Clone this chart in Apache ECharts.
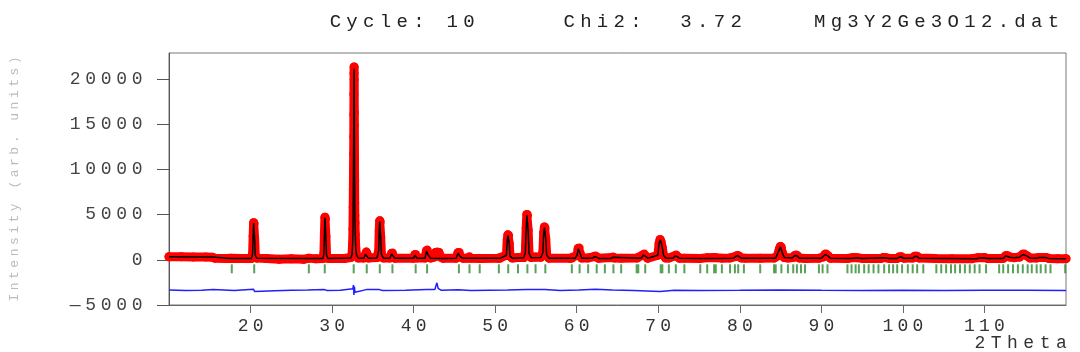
<!DOCTYPE html>
<html>
<head>
<meta charset="utf-8">
<script src="https://cdn.jsdelivr.net/npm/echarts@6/dist/echarts.min.js"></script>
<style>
    html, body { margin: 0; padding: 0; background: #fff; }
    #main { width: 1080px; height: 352px; }
</style>
</head>
<body>
<div id="main"></div>
<script>
// observed intensities [2theta, counts]
const observed = [
    [10, 330], [11.5, 320], [13, 310], [14.5, 300], [15.3, 290], [15.6, 180], [17, 150], [17.6, 170], [17.8, 150], [19, 140], [20.1, 150],
    [20.25, 600], [20.32, 2600], [20.38, 4100], [20.44, 4000], [20.5, 2400], [20.58, 500], [20.75, 180],
    [22, 130], [23.5, 60], [25, 100], [26.5, 50], [27.15, 180], [28, 100], [28.9, 150],
    [29.0, 700], [29.06, 2900], [29.12, 4700], [29.18, 4500], [29.24, 2600], [29.32, 500], [29.5, 150],
    [30.5, 130], [31.5, 140], [32.3, 250],
    [32.45, 600], [32.52, 1800], [32.56, 3400], [32.59, 5800], [32.61, 7800], [32.63, 9900], [32.645, 11700], [32.66, 13600],
    [32.67, 16000], [32.68, 18300], [32.69, 20600], [32.7, 21300], [32.71, 19900], [32.72, 16300], [32.73, 14900], [32.745, 11300],
    [32.76, 8800], [32.775, 6300], [32.79, 4900], [32.81, 4100], [32.84, 2800], [32.9, 1300], [33.0, 500], [33.2, 200],
    [33.9, 200], [34.1, 600], [34.2, 850], [34.3, 600], [34.45, 200],
    [35.5, 250], [35.72, 1000], [35.78, 3200], [35.84, 4300], [35.9, 4200], [35.96, 2500], [36.05, 600], [36.3, 200],
    [37.1, 200], [37.3, 700], [37.4, 750], [37.5, 400], [37.7, 170],
    [40.0, 170], [40.15, 550], [40.25, 580], [40.4, 200],
    [41.4, 200], [41.58, 1000], [41.68, 1070], [41.8, 500], [42.1, 200],
    [42.5, 300], [42.7, 800], [42.9, 860], [43.1, 800], [43.3, 300], [43.6, 160],
    [45.2, 180], [45.45, 780], [45.6, 800], [45.75, 300], [46.1, 170],
    [46.65, 200], [46.85, 320], [47.05, 170], [48.1, 150], [50.4, 160], [50.6, 170],
    [51.38, 500], [51.48, 2200], [51.56, 2750], [51.64, 2700], [51.72, 1800], [51.82, 400], [52.1, 200], [52.82, 250], [53.5, 250],
    [53.7, 800], [53.8, 3500], [53.88, 5000], [53.96, 4900], [54.04, 3300], [54.15, 700], [54.4, 250], [54.95, 300], [55.6, 280],
    [55.85, 800], [55.95, 3000], [56.04, 3630], [56.12, 3500], [56.2, 2300], [56.32, 500], [56.6, 180],
    [59.2, 160], [59.4, 200], [60.05, 500], [60.18, 1250], [60.3, 1300], [60.42, 700], [60.6, 200],
    [61.4, 200], [62.15, 350], [62.3, 410], [62.45, 300], [62.7, 160],
    [64.3, 250], [64.46, 300], [64.6, 200], [65.45, 180],
    [67.4, 200], [68.15, 550], [68.3, 630], [68.45, 400], [68.7, 170],
    [69.95, 500], [70.1, 1800], [70.22, 2240], [70.34, 2000], [70.5, 1300], [70.65, 500], [70.9, 200],
    [71.3, 200], [72.05, 450], [72.2, 520], [72.35, 350], [72.6, 170],
    [73.2, 180], [75.2, 150], [76.0, 230], [76.8, 250], [77.05, 230], [77.8, 180], [78.8, 200], [79.45, 350], [79.7, 470], [79.9, 420], [80.2, 200], [80.6, 180],
    [82.5, 170], [84.2, 200], [84.6, 400], [84.85, 1200], [84.98, 1470], [85.1, 1350], [85.25, 700], [85.45, 250], [85.9, 200],
    [86.55, 250], [86.75, 480], [86.9, 520], [87.05, 450], [87.3, 200],
    [88, 150], [89.7, 170], [90.2, 300], [90.45, 600], [90.6, 630], [90.8, 450], [91.1, 170],
    [93.2, 140], [93.9, 250], [94.4, 230], [95.0, 150], [97.3, 150], [97.6, 240], [97.9, 230], [98.3, 150],
    [99.3, 150], [99.55, 300], [99.8, 320], [100.1, 180], [101.2, 200], [101.45, 390], [101.7, 400], [102.0, 200],
    [104, 130], [106, 120], [108.5, 120], [109.2, 230], [110.0, 250], [110.4, 140],
    [112.3, 150], [112.6, 450], [112.8, 470], [113.1, 300], [113.6, 230], [114.3, 300], [114.7, 600], [114.9, 630], [115.2, 450], [115.6, 200],
    [116.4, 200], [116.7, 260], [117.5, 260], [117.9, 150], [119, 120], [120, 120]
];

// calculated profile
const calculated = [
    [10, 340], [15.3, 300], [15.5, 170], [17.6, 150], [17.7, 260], [17.8, 150], [20.1, 150],
    [20.25, 600], [20.32, 2600], [20.38, 4050], [20.44, 3950], [20.5, 2400], [20.58, 500], [20.75, 160],
    [27.05, 140], [27.15, 230], [27.25, 140], [28.9, 150],
    [29.0, 700], [29.06, 2900], [29.12, 4650], [29.18, 4450], [29.24, 2600], [29.32, 500], [29.5, 150],
    [32.3, 200], [32.45, 600], [32.52, 1800], [32.56, 3400], [32.6, 7000], [32.64, 12500], [32.68, 19000], [32.7, 21100],
    [32.72, 17500], [32.75, 11000], [32.79, 5000], [32.84, 2800], [32.9, 1300], [33.0, 500], [33.2, 200],
    [33.9, 180], [34.1, 600], [34.2, 800], [34.3, 600], [34.45, 180],
    [35.5, 200], [35.72, 1000], [35.78, 3200], [35.84, 4250], [35.9, 4150], [35.96, 2500], [36.05, 600], [36.3, 180],
    [37.1, 170], [37.3, 650], [37.4, 700], [37.5, 400], [37.7, 160],
    [40.0, 160], [40.15, 500], [40.25, 540], [40.4, 180],
    [41.4, 180], [41.58, 950], [41.68, 1000], [41.8, 500], [42.1, 170], [43.6, 150],
    [45.2, 160], [45.45, 720], [45.6, 750], [45.75, 300], [46.1, 160],
    [46.65, 170], [46.85, 300], [47.05, 160], [50.6, 160],
    [51.38, 500], [51.48, 2200], [51.56, 2700], [51.64, 2650], [51.72, 1800], [51.82, 400], [52.1, 180], [53.5, 220],
    [53.7, 800], [53.8, 3500], [53.88, 4900], [53.96, 4800], [54.04, 3300], [54.15, 700], [54.4, 230], [55.6, 250],
    [55.85, 800], [55.95, 3000], [56.04, 3550], [56.12, 3450], [56.2, 2300], [56.32, 500], [56.6, 170],
    [59.8, 170], [60.05, 500], [60.18, 1200], [60.3, 1250], [60.42, 700], [60.6, 180],
    [61.9, 160], [62.15, 330], [62.3, 380], [62.45, 280], [62.7, 150],
    [64.2, 150], [64.46, 280], [64.7, 150],
    [67.9, 160], [68.15, 520], [68.3, 600], [68.45, 380], [68.7, 160],
    [69.95, 500], [70.1, 1800], [70.22, 2200], [70.34, 1950], [70.5, 1300], [70.65, 500], [70.9, 190],
    [71.8, 170], [72.05, 430], [72.2, 500], [72.35, 330], [72.6, 160],
    [75.8, 150], [76.0, 200], [76.2, 150], [79.2, 160], [79.45, 330], [79.7, 450], [79.9, 400], [80.2, 180],
    [84.4, 180], [84.6, 400], [84.85, 1150], [84.98, 1420], [85.1, 1300], [85.25, 700], [85.45, 240], [86.4, 190],
    [86.75, 460], [86.9, 500], [87.05, 430], [87.3, 180],
    [90.0, 160], [90.2, 280], [90.45, 580], [90.6, 600], [90.8, 430], [91.1, 160],
    [93.7, 140], [93.9, 220], [94.4, 210], [95.0, 140], [97.6, 210], [97.9, 200], [98.3, 140],
    [99.3, 140], [99.55, 280], [99.8, 300], [100.1, 170], [101.2, 180], [101.45, 370], [101.7, 380], [102.0, 180],
    [109.0, 120], [109.4, 200], [109.9, 210], [110.4, 130],
    [112.3, 140], [112.6, 430], [112.8, 450], [113.1, 280], [113.6, 210], [114.3, 280], [114.7, 580], [114.9, 600], [115.2, 430], [115.6, 190],
    [116.4, 180], [116.7, 240], [117.5, 240], [117.9, 140], [120, 120]
];

// observed - calculated, drawn with offset
const difference = [
    [10, -3350], [12, -3400], [14, -3380], [15.4, -3300], [15.6, -3450], [18, -3400], [20.35, -3250], [20.5, -3500], [20.7, -3380],
    [23, -3420], [25, -3380], [27, -3350], [29.05, -3300], [29.2, -3500], [29.4, -3400], [31, -3380],
    [32.55, -3200], [32.62, -2800], [32.68, -3900], [32.74, -2950], [32.8, -3600], [32.9, -3400],
    [34.2, -3300], [35.8, -3300], [35.95, -3500], [36.2, -3400], [39, -3380], [41.6, -3300], [42.6, -3300],
    [42.85, -2550], [43.0, -3150], [43.4, -3380], [45.5, -3320], [47, -3400], [51.5, -3350], [51.7, -3450],
    [53.85, -3300], [54.0, -3500], [56.1, -3300], [56.2, -3480], [58, -3400], [60.25, -3330], [62.3, -3250], [62.5, -3400],
    [64.4, -3350], [67, -3400], [70.2, -3500], [70.4, -3300], [72, -3380], [75, -3400], [80, -3370], [85.0, -3330], [85.2, -3450],
    [90, -3380], [95, -3400], [100, -3370], [105, -3400], [110, -3380], [115, -3360], [120, -3400]
];

// reflection positions (2theta)
const braggPos = [
    17.7, 20.45, 27.15, 29.1, 32.65, 34.25, 35.85, 37.4, 40.25, 41.65, 45.55, 46.85, 48.1, 50.45, 51.6, 52.8, 53.95, 54.95, 56.15,
    59.4, 60.35, 61.4, 62.45, 63.45, 64.5, 65.45, 67.35, 67.55, 68.4, 70.3, 70.5, 71.3, 72.15, 73.2, 75.15, 76.0, 76.85, 77.05,
    77.8, 78.8, 79.4, 79.8, 80.5, 82.5, 84.2, 84.4, 85.1, 85.9, 86.55, 87.0, 87.5, 88.0, 89.7, 90.15, 90.75, 93.2, 93.7, 94.2,
    94.6, 95.25, 95.8, 96.4, 97.0, 97.7, 98.3, 98.8, 99.3, 99.9, 100.6, 101.2, 101.75, 102.5, 104.1, 104.7, 105.3, 105.9, 106.4,
    107.0, 107.6, 108.2, 108.8, 109.4, 110.2, 111.8, 112.3, 112.9, 113.5, 114.1, 114.7, 115.3, 115.8, 116.4, 116.9, 117.5, 118.1, 119.9
];
const braggLevel = -1000;

const xTicks = [20, 30, 40, 50, 60, 70, 80, 90, 100, 110];
const yTicks = [-5000, 0, 5000, 10000, 15000, 20000];

// monospace text spread out one cell per character
function spaced(s, key) {
    return s.split('').map(function (c) {
        return '{' + key + '|' + (c === ' ' ? '\u00a0' : c) + '}';
    }).join('');
}
const mono = 'Liberation Mono';

let myChart = echarts.init(document.getElementById('main'));
myChart.setOption({
    animation: false,
    backgroundColor: '#fff',
    title: [{
        text: spaced('Cycle: 10     Chi2:  3.72    Mg3Y2Ge3O12.dat', 't'),
        left: 327,
        top: 12,
        padding: 0,
        textStyle: {
            fontWeight: 'normal',
            rich: { t: { width: 16.7, align: 'center', fontFamily: mono, fontSize: 19, fontWeight: 'normal', color: '#222' } }
        }
    }, {
        text: spaced('2Theta', 'n'),
        right: 16,
        top: 334,
        padding: 0,
        textStyle: {
            fontWeight: 'normal',
            rich: { n: { width: 16.3, align: 'center', fontFamily: mono, fontSize: 18, fontWeight: 'normal', color: '#333' } }
        }
    }],
    grid: {
        left: 163,
        right: 14,
        top: 53,
        bottom: 47,
        show: true,
        borderColor: '#777',
        borderWidth: 1
    },
    xAxis: {
        type: 'value',
        min: 10,
        max: 120,
        interval: 10,
        axisLine: { onZero: false, lineStyle: { color: '#666' } },
        axisTick: { customValues: xTicks, length: 8, lineStyle: { color: '#666' } },
        splitLine: { show: false },
        axisLabel: {
            customValues: xTicks,
            margin: 12,
            formatter: function (v) { return spaced(String(v), 'x'); },
            rich: { x: { width: 15, align: 'center', fontFamily: mono, fontSize: 18, color: '#333' } }
        }
    },
    yAxis: {
        type: 'value',
        min: -5000,
        max: 22850,
        interval: 5000,
        name: spaced('Intensity (arb. units)', 'y'),
        nameLocation: 'middle',
        nameRotate: 90,
        nameGap: 148,
        nameTextStyle: {
            rich: { y: { width: 11.3, align: 'center', fontFamily: mono, fontSize: 13, color: '#bbb' } }
        },
        axisLine: { show: true, lineStyle: { color: '#555' } },
        axisTick: { show: true, customValues: yTicks, length: 12, lineStyle: { color: '#555' } },
        splitLine: { show: false },
        axisLabel: {
            customValues: yTicks,
            margin: 24,
            formatter: function (v) { return spaced(v < 0 ? '\u2014' + String(-v) : String(v), 'l'); },
            rich: { l: { width: 15.5, align: 'center', fontFamily: mono, fontSize: 18, color: '#444' } }
        }
    },
    series: [
        {
            name: 'observed',
            type: 'line',
            data: observed,
            symbol: 'circle',
            symbolSize: 9,
            showSymbol: true,
            showAllSymbol: true,
            itemStyle: { color: '#ff0000' },
            lineStyle: { color: '#ff0000', width: 9, cap: 'round', join: 'round' },
            z: 2
        },
        {
            name: 'calculated',
            type: 'line',
            data: calculated,
            showSymbol: false,
            lineStyle: { color: '#000', width: 1.5 },
            z: 3
        },
        {
            name: 'bragg',
            type: 'scatter',
            data: braggPos.map(function (p) { return [p, braggLevel]; }),
            symbol: 'rect',
            symbolSize: [2, 9],
            itemStyle: { color: '#2e8b2e' },
            z: 3
        },
        {
            name: 'difference',
            type: 'line',
            data: difference,
            showSymbol: false,
            lineStyle: { color: '#1f1fff', width: 1.5 },
            z: 3
        }
    ]
});
</script>
</body>
</html>
